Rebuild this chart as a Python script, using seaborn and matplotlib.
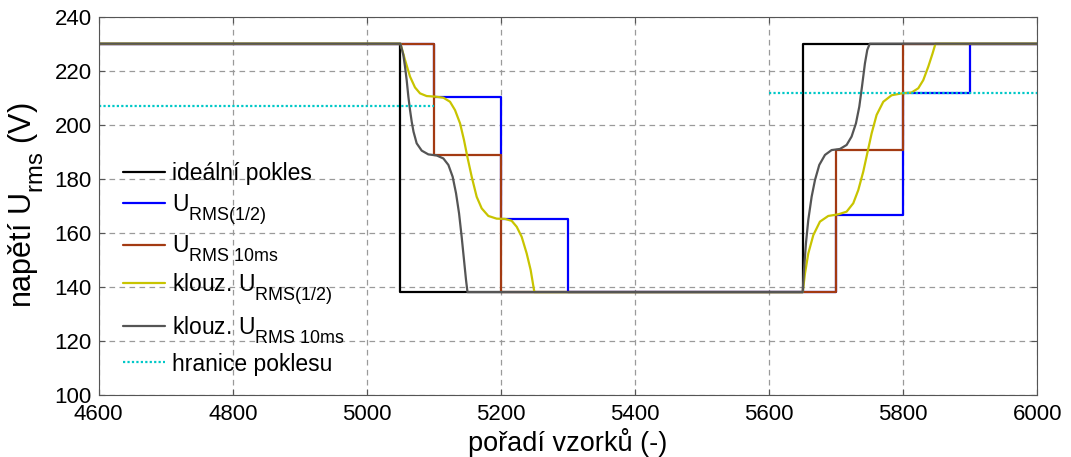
import numpy as np
import pandas as pd
import matplotlib
matplotlib.use("Agg")
import matplotlib.pyplot as plt
import seaborn as sns

# ---------------- data ----------------
ideal_x = [4600, 5050, 5650, 6000]
ideal_y = [230, 138, 230, 230]

rms_half_x = [4600, 5100, 5200, 5300, 5700, 5800, 5900, 6000]
rms_half_y = [230, 210.4, 165.1, 138, 166.7, 211.6, 230, 230]

rms_10ms_x = [4600, 5100, 5200, 5700, 5800, 6000]
rms_10ms_y = [230, 188.7, 138, 190.6, 230, 230]

slide_half_x = [4600, 5050, 5056.8, 5064.3, 5071.7, 5079.2, 5089.1, 5101.6, 5114.0, 5123.9,
                5131.4, 5138.9, 5144.8, 5149.8, 5156.3, 5163.7, 5171.2, 5181.1, 5193.5,
                5206.0, 5215.9, 5223.4, 5230.8, 5238.3, 5244.2, 5249.2, 5250,
                5650, 5653.4, 5658.3, 5665.8, 5675.7, 5688.1, 5703.1, 5715.5, 5725.4,
                5732.9, 5740.3, 5746.3, 5752.8, 5760.2, 5770.2, 5782.6, 5797.5, 5812.4,
                5822.4, 5829.8, 5837.3, 5843.7, 5848, 6000]
slide_half_y = [230, 230, 224.0, 217.8, 213.8, 211.6, 210.6, 210.4, 210.0, 208.5,
                205.4, 200.5, 194.3, 188.1, 180.7, 173.3, 169.0, 166.2, 165.2,
                165.1, 164.4, 162.2, 158.5, 152.3, 146.2, 138.8, 138,
                138, 144.9, 152.3, 159.1, 164.1, 166.2, 166.8, 167.8, 170.9,
                175.8, 182.6, 189.4, 196.8, 203.6, 208.5, 210.9, 211.6, 211.9,
                213.5, 216.5, 221.5, 226.4, 230, 230]

slide_10ms_x = [4600, 5050, 5054.3, 5056.8, 5059.3, 5061.8, 5064.3, 5066.8, 5069.5, 5074.2,
                5081.7, 5091.6, 5104.1, 5114.0, 5121.5, 5127.9, 5132.9, 5137.4, 5141.3,
                5144.8, 5147.8, 5150,
                5650, 5651.9, 5654.8, 5658.3, 5663.3, 5668.3, 5674.7, 5683.2, 5693.1,
                5705.5, 5715.5, 5722.9, 5729.4, 5734.4, 5738.4, 5742.8, 5746.3, 5750, 6000]
slide_10ms_y = [230, 230, 225.8, 221.5, 216.5, 210.4, 205.4, 201.1, 197.4, 193.1,
                190.4, 189.0, 188.6, 187.5, 185.1, 180.7, 174.6, 167.2, 158.5,
                149.9, 142.5, 138,
                138, 146.2, 156.0, 164.7, 173.3, 179.5, 185.1, 188.8, 190.6,
                191.0, 192.5, 195.6, 200.5, 206.7, 214.1, 222.7, 227.7, 230, 230]

limit_start_x = [4600, 5100]
limit_start_y = [207, 207]
limit_end_x = [5600, 6000]
limit_end_y = [211.6, 211.6]

labels = ["ideální pokles",
          r"U$_{\mathregular{RMS(1/2)}}$",
          r"U$_{\mathregular{RMS\ 10ms}}$",
          r"klouz. U$_{\mathregular{RMS(1/2)}}$",
          r"klouz. U$_{\mathregular{RMS\ 10ms}}$",
          "hranice poklesu"]
colors = ["#000000", "#0000FF", "#A33A12", "#C8C400", "#555555", "#00C8C8"]

xticks = [4600, 4800, 5000, 5200, 5400, 5600, 5800, 6000]
yticks = [100, 120, 140, 160, 180, 200, 220, 240]

# ---------------- style ----------------
try:
    import matplotlib._mathtext as _mt
    _mt.SHRINK_FACTOR = 0.78
    _mt.FontConstantsBase.sub1 = 0.75
    _mt.FontConstantsBase.sub2 = 0.9
except Exception:
    pass

sns.set_style("ticks")
plt.rcParams["font.family"] = ["Liberation Sans", "DejaVu Sans"]
plt.rcParams["mathtext.fontset"] = "custom"
plt.rcParams["mathtext.rm"] = "Liberation Sans"
plt.rcParams["mathtext.it"] = "Liberation Sans:italic"
plt.rcParams["mathtext.bf"] = "Liberation Sans:bold"
plt.rcParams["text.color"] = "black"
plt.rcParams["axes.labelcolor"] = "black"
plt.rcParams["xtick.color"] = "black"
plt.rcParams["ytick.color"] = "black"

fig = plt.figure(figsize=(10.71, 4.57), dpi=100)
ax = fig.add_axes([0.0922, 0.1363, 0.9686 - 0.0922, 0.9635 - 0.1363])

lw = 1.6
sns.lineplot(x=ideal_x, y=ideal_y, ax=ax, color=colors[0], lw=lw, drawstyle="steps-post",
             estimator=None, sort=False, label=labels[0])
sns.lineplot(x=rms_half_x, y=rms_half_y, ax=ax, color=colors[1], lw=lw, drawstyle="steps-post",
             estimator=None, sort=False, label=labels[1])
sns.lineplot(x=rms_10ms_x, y=rms_10ms_y, ax=ax, color=colors[2], lw=lw, drawstyle="steps-post",
             estimator=None, sort=False, label=labels[2])
sns.lineplot(x=slide_half_x, y=slide_half_y, ax=ax, color=colors[3], lw=lw,
             estimator=None, sort=False, label=labels[3])
sns.lineplot(x=slide_10ms_x, y=slide_10ms_y, ax=ax, color=colors[4], lw=lw,
             estimator=None, sort=False, label=labels[4])
sns.lineplot(x=limit_start_x, y=limit_start_y, ax=ax, color=colors[5], lw=lw,
             linestyle=(0, (1, 1)), estimator=None, sort=False, label=labels[5])
sns.lineplot(x=limit_end_x, y=limit_end_y, ax=ax, color=colors[5], lw=lw,
             linestyle=(0, (1, 1)), estimator=None, sort=False, label="_nolegend_")

ax.set_xlim(4600, 6000)
ax.set_ylim(100, 240)
ax.set_xticks(xticks)
ax.set_yticks(yticks)

ax.grid(True, color="#9a9a9a", linestyle=(0, (4.5, 3.5)), linewidth=0.9)
ax.set_axisbelow(True)
for s in ax.spines.values():
    s.set_visible(True)
    s.set_color("#555555")
    s.set_linewidth(0.8)
ax.tick_params(direction="in", length=4, width=0.8, color="#555555",
               labelcolor="black", top=True, right=True, labelsize=16)
ax.tick_params(axis="x", pad=7)
ax.tick_params(axis="y", pad=5)

ax.set_xlabel("pořadí vzorků (-)", fontsize=19.5, labelpad=2)
ax.set_ylabel(r"napětí U$_{\mathregular{rms}}$ (V)", fontsize=22, labelpad=6)

leg = ax.legend(loc="upper left", bbox_to_anchor=(0.016, 0.64), frameon=False,
                fontsize=16.5, handlelength=1.85, handletextpad=0.3, labelspacing=0.3,
                borderaxespad=0)
for t in leg.get_texts():
    t.set_color("black")

fig.savefig("out.png", dpi=100)
